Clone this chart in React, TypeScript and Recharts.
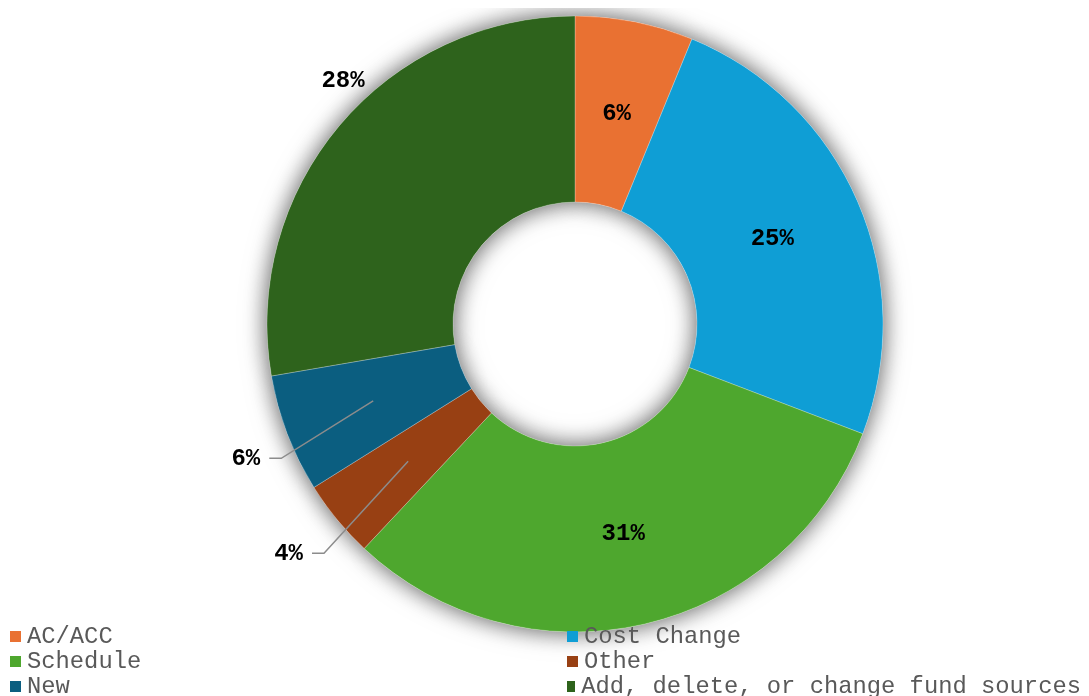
import { PieChart, Pie, Cell, Legend } from "recharts";

const categories = [
  "AC/ACC",
  "Cost Change",
  "Schedule",
  "Other",
  "New",
  "Add, delete, or change fund sources",
];
const shares = [6.2, 24.6, 31.2, 4.1, 6.2, 27.7];
const colors = ["#E97132", "#0F9ED5", "#4EA72E", "#984013", "#0B5E80", "#2E631C"];

const data = categories.map((name, i) => ({ name, value: shares[i] }));

const MONO = "'Liberation Mono', 'Courier New', monospace";
const RAD = Math.PI / 180;
const polar = (cx: number, cy: number, r: number, angle: number) => ({
  x: cx + r * Math.cos(-angle * RAD),
  y: cy + r * Math.sin(-angle * RAD),
});

// where each slice label sits: inside the ring, outside, or outside with a leader line
const labelSpots: { kind: string; r?: number; shift?: number }[] = [
  { kind: "in" },
  { kind: "in" },
  { kind: "in" },
  { kind: "leader", r: 340, shift: 3 },
  { kind: "leader", r: 323, shift: 3.7 },
  { kind: "out", r: 336, shift: -6.2 },
];

const labelStyle = {
  fontFamily: MONO,
  fontWeight: 700,
  fontSize: 24,
  fill: "#000",
};

const renderLabel = (props: any) => {
  const { cx, cy, midAngle, innerRadius, outerRadius, percent, index } = props;
  const text = `${Math.round(percent * 100)}%`;
  const spot = labelSpots[index];
  const mid = (innerRadius + outerRadius) / 2;
  if (spot.kind === "in") {
    const p = polar(cx, cy, mid, midAngle);
    return (
      <text x={p.x} y={p.y} textAnchor="middle" dominantBaseline="central" style={labelStyle}>
        {text}
      </text>
    );
  }
  const p = polar(cx, cy, spot.r!, midAngle + spot.shift!);
  if (spot.kind === "out") {
    return (
      <text x={p.x} y={p.y} textAnchor="middle" dominantBaseline="central" style={labelStyle}>
        {text}
      </text>
    );
  }
  const s = polar(cx, cy, mid + 1, midAngle);
  return (
    <g>
      <polyline
        points={`${s.x},${s.y} ${p.x},${p.y} ${p.x - 12},${p.y}`}
        fill="none"
        stroke="#8c8c8c"
        strokeWidth={1.5}
      />
      <text x={p.x - 21} y={p.y} textAnchor="end" dominantBaseline="central" style={labelStyle}>
        {text}
      </text>
    </g>
  );
};

const renderLegend = (props: any) => {
  const items = (props.payload || [])
    .filter((e: any) => e.type !== "none")
    .sort((a: any, b: any) => categories.indexOf(a.value) - categories.indexOf(b.value));
  return (
    <div
      style={{
        display: "grid",
        gridTemplateColumns: "557px 514px",
        fontFamily: MONO,
        fontSize: 23.8,
        lineHeight: "25px",
        color: "#595959",
      }}
    >
      {items.map((e: any) => (
        <div key={e.value} style={{ display: "flex", alignItems: "center", whiteSpace: "nowrap" }}>
          <span
            style={{
              display: "inline-block",
              width: 11,
              height: 11,
              background: e.color,
              marginRight: 6,
            }}
          />
          {e.value}
        </div>
      ))}
    </div>
  );
};

export default function App() {
  return (
    <div>
      <style>{`
        .shadow-pie { filter: drop-shadow(0 0 11px rgba(0,0,0,0.36)); }
        .recharts-surface { overflow: visible; }
      `}</style>
      <PieChart width={1073} height={688}>
        <Pie
          className="shadow-pie"
          data={data}
          dataKey="value"
          nameKey="name"
          cx={562}
          cy={311}
          innerRadius={122}
          outerRadius={308}
          startAngle={90}
          endAngle={-270}
          stroke="none"
          legendType="none"
          isAnimationActive={false}
        >
          {data.map((d) => (
            <Cell key={d.name} fill="#fff" />
          ))}
        </Pie>
        <Pie
          data={data}
          dataKey="value"
          nameKey="name"
          cx={562}
          cy={311}
          innerRadius={122}
          outerRadius={308}
          startAngle={90}
          endAngle={-270}
          stroke="#ffffff"
          strokeWidth={0.5}
          strokeOpacity={0.5}
          label={renderLabel}
          labelLine={false}
          legendType="square"
          isAnimationActive={false}
        >
          {data.map((d, i) => (
            <Cell key={d.name} fill={colors[i]} />
          ))}
        </Pie>
        <Legend
          content={renderLegend}
          wrapperStyle={{ position: "absolute", left: 2, top: 616, width: 1071 }}
        />
      </PieChart>
    </div>
  );
}
